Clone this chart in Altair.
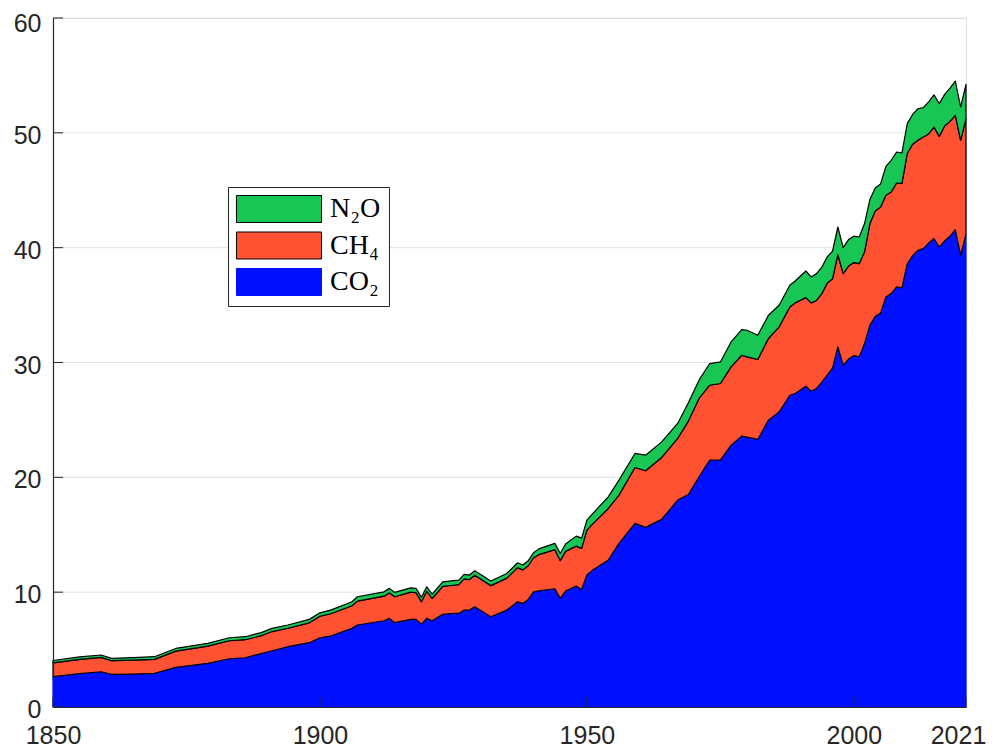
import altair as alt
import pandas as pd

years = [1850, 1855, 1859, 1861, 1865, 1869, 1873, 1879, 1883, 1886, 1889, 1891, 1894, 1898,
         1900, 1902, 1906, 1907, 1912, 1913, 1914, 1917, 1918, 1919, 1920, 1921, 1923, 1925,
         1926, 1927, 1928, 1929, 1932, 1935, 1937, 1938, 1939, 1940, 1941, 1944, 1945, 1946,
         1948, 1949, 1950, 1951, 1954, 1956, 1959, 1961, 1964, 1967, 1969, 1971, 1973, 1975,
         1977, 1979, 1980, 1982, 1984, 1986, 1988, 1989, 1991, 1992, 1993, 1994, 1995, 1996,
         1997, 1998, 1999, 2000, 2001, 2002, 2003, 2004, 2005, 2006, 2007, 2008, 2009, 2010,
         2011, 2012, 2013, 2014, 2015, 2016, 2017, 2018, 2019, 2020, 2021]

co2 = [2.64, 2.90, 3.07, 2.84, 2.87, 2.93, 3.45, 3.80, 4.20, 4.29, 4.65, 4.90, 5.25, 5.60,
       6.03, 6.18, 6.85, 7.14, 7.51, 7.72, 7.34, 7.63, 7.63, 7.22, 7.72, 7.51, 8.07, 8.15,
       8.15, 8.44, 8.44, 8.73, 7.86, 8.44, 9.16, 9.02, 9.37, 10.03, 10.12, 10.30, 9.46, 10.10,
       10.53, 10.24, 11.50, 11.90, 12.79, 14.25, 15.99, 15.64, 16.34, 18.02, 18.50, 20.05, 21.50, 21.50,
       22.80, 23.59, 23.50, 23.30, 24.98, 25.70, 27.15, 27.30, 27.94, 27.50, 27.74, 28.30, 28.90, 29.50,
       31.36, 29.77, 30.30, 30.60, 30.49, 31.65, 33.25, 34.00, 34.30, 35.71, 36.00, 36.58, 36.50, 38.60,
       39.30, 39.77, 39.92, 40.40, 40.80, 40.06, 40.60, 41.00, 41.57, 39.34, 41.17]

ch4 = [1.21, 1.25, 1.25, 1.19, 1.21, 1.22, 1.42, 1.50, 1.57, 1.57, 1.56, 1.67, 1.61, 1.73,
       1.87, 1.94, 1.97, 2.08, 2.14, 2.23, 2.26, 2.37, 2.32, 1.95, 2.36, 1.94, 2.43, 2.45,
       2.50, 2.71, 2.66, 2.74, 2.71, 2.78, 2.98, 2.92, 2.93, 2.97, 3.15, 3.40, 3.29, 3.45,
       3.48, 3.57, 3.90, 4.00, 4.50, 4.20, 4.87, 4.93, 5.39, 5.37, 6.40, 6.82, 6.52, 6.67,
       6.82, 7.04, 6.99, 6.96, 7.11, 7.40, 7.69, 7.89, 7.71, 7.69, 7.66, 7.70, 8.00, 7.80,
       8.04, 7.97, 8.10, 8.10, 8.12, 7.98, 8.85, 9.20, 9.25, 8.85, 8.85, 9.05, 9.10, 9.60,
       9.70, 9.58, 9.72, 9.50, 9.70, 9.63, 10.00, 10.00, 9.95, 10.01, 10.06]

n2o = [0.20, 0.21, 0.21, 0.21, 0.22, 0.23, 0.23, 0.24, 0.26, 0.26, 0.27, 0.28, 0.28, 0.30,
       0.30, 0.32, 0.35, 0.38, 0.38, 0.38, 0.38, 0.38, 0.38, 0.38, 0.39, 0.38, 0.40, 0.40,
       0.40, 0.40, 0.39, 0.39, 0.40, 0.41, 0.42, 0.42, 0.43, 0.43, 0.50, 0.55, 0.62, 0.65,
       0.87, 0.90, 0.87, 0.90, 1.01, 1.31, 1.22, 1.36, 1.36, 1.30, 1.60, 1.59, 1.89, 1.88,
       2.17, 2.24, 2.32, 2.12, 2.03, 1.89, 1.89, 1.91, 2.32, 2.26, 2.34, 2.30, 2.30, 2.40,
       2.40, 2.26, 2.30, 2.30, 2.32, 2.47, 2.10, 2.00, 2.00, 2.52, 2.76, 2.70, 2.65, 2.60,
       2.60, 2.75, 2.55, 2.80, 2.80, 2.85, 2.75, 2.90, 2.99, 2.90, 2.99]

legend_order = ["N₂O", "CH₄", "CO₂"]
fill_colors = ["#17C653", "#FF5233", "#0010FF"]
edge_colors = ["#000000", "#000000", "#0010FF"]
y_ticks = [0, 10, 20, 30, 40, 50, 60]
x_ticks = [1850, 1900, 1950, 2000, 2021]

rows = []
for i, yr in enumerate(years):
    rows.append({"year": yr, "gas": "CO₂", "value": co2[i], "k": 0})
    rows.append({"year": yr, "gas": "CH₄", "value": ch4[i], "k": 1})
    rows.append({"year": yr, "gas": "N₂O", "value": n2o[i], "k": 2})
df = pd.DataFrame(rows)

W, H = 913, 689
AX = "#262626"
FONT = "Liberation Sans"

xscale = alt.Scale(domain=[1850, 2021], nice=False, zero=False)
yscale = alt.Scale(domain=[0, 60], nice=False, zero=True)

xaxis = alt.Axis(values=x_ticks, format="d", title=None, grid=False, tickSize=0,
                 labelPadding=16, labelFont=FONT, labelFontSize=25, labelColor=AX,
                 labelOffset={"condition": {"test": "datum.value == 2021", "value": -8},
                              "value": 0},
                 domainColor=AX, domainWidth=1.2, zindex=1, labelFlush=False,
                 labelOverlap=False)
yaxis = alt.Axis(values=y_ticks, title=None, grid=False, tickSize=0,
                 labelPadding=12, labelFont=FONT, labelFontSize=25, labelColor=AX,
                 labelOffset={"condition": {"test": "datum.value == 60", "value": 5},
                              "value": 2.5},
                 domainColor=AX, domainWidth=1.2, zindex=1, labelOverlap=False)

grid = alt.Chart(pd.DataFrame({"v": y_ticks[1:]})).mark_rule(
    color="#E2E2E2", strokeWidth=1
).encode(
    y=alt.Y("v:Q", scale=yscale, axis=yaxis),
    x=alt.value(0), x2=alt.value(W),
)

area = alt.Chart(df).mark_area(opacity=1, strokeWidth=1.2, strokeJoin="round",
                               interpolate="linear").encode(
    x=alt.X("year:Q", scale=xscale, axis=xaxis),
    y=alt.Y("value:Q", stack="zero", scale=yscale, axis=yaxis),
    order=alt.Order("k:Q", sort="ascending"),
    color=alt.Color("gas:N", scale=alt.Scale(domain=legend_order, range=fill_colors),
                    legend=alt.Legend(
                        title=None, orient="none", legendX=175, legendY=169,
                        symbolType="M-3.15,-1H3.15V1H-3.15Z", symbolSize=729,
                        symbolOffset=29, labelOffset=37,
                        symbolStrokeColor="black", symbolStrokeWidth=1, symbolOpacity=1,
                        labelFont="Liberation Serif", labelFontSize=28, labelColor="black",
                        rowPadding=4.5, padding=8, strokeColor="#262626", fillColor="white",
                        cornerRadius=0, labelLimit=0)),
    stroke=alt.Stroke("gas:N", scale=alt.Scale(domain=legend_order, range=edge_colors),
                      legend=None),
)

yticks = alt.Chart(pd.DataFrame({"v": y_ticks})).mark_rule(color=AX, strokeWidth=1).encode(
    y=alt.Y("v:Q", scale=yscale, axis=yaxis),
    x=alt.value(0), x2=alt.value(10),
)
xticks = alt.Chart(pd.DataFrame({"t": x_ticks})).mark_rule(color=AX, strokeWidth=1).encode(
    x=alt.X("t:Q", scale=xscale, axis=xaxis),
    y=alt.value(H), y2=alt.value(H - 10),
)

chart = alt.layer(grid, area, yticks, xticks).properties(
    width=W, height=H,
    autosize=alt.AutoSizeParams(type="none"),
    padding={"left": 45, "top": 10, "right": 22, "bottom": 42},
).configure_view(stroke=None).configure(background="white")

chart.save("out.html", embed_options={"renderer": "svg", "actions": False})
